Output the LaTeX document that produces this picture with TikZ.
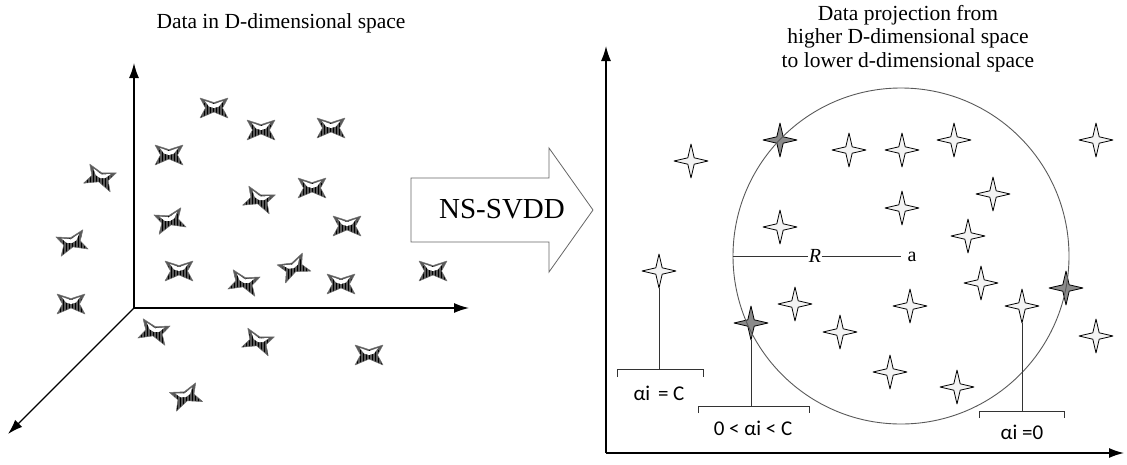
\documentclass[tikz,border=0pt]{standalone}
\usepackage{fontspec}
\setmainfont{Liberation Serif}
\newfontfamily\lblfont{Carlito}
\usetikzlibrary{arrows.meta,patterns}
\definecolor{starw}{HTML}{F3F3F3}
\definecolor{stard}{HTML}{8A8A8A}
\begin{document}
\begin{tikzpicture}[x=1pt,y=-1pt,
  axis/.style={line width=1.4pt,-{Latex[length=15pt,width=10pt]}},
  title/.style={font=\fontsize{21.5}{23.3}\selectfont,align=center,inner sep=0pt},
  lbl/.style={font=\lblfont\fontsize{21}{21}\selectfont,inner sep=0pt},
  bracket/.style={line width=0.9pt,black!80},
  conn/.style={line width=0.9pt,black!80},
  pics/xmark/.style={code={
    \begin{scope}
      \path[clip] (-14,-10) -- (0,-5.5) -- (14,-10) -- (8.5,0) -- (14,10) -- (0,4) -- (-14,10) -- (-8.5,0) -- cycle;
      \fill[black!65] (-16,-13) rectangle (16,13);
      \fill[pattern=vertical lines,pattern color=black] (-16,-5) rectangle (16,13);
      \fill[white] (-9,-7) -- (0,-3.8) -- (9,-7) -- (5,-1.5) -- (0,0) -- (-5,-1.5) -- cycle;
    \end{scope}
    \draw[black!55,line width=0.5pt,line join=round] (-14,-10) -- (0,-5.5) -- (14,-10) -- (8.5,0) -- (14,10) -- (0,4) -- (-14,10) -- (-8.5,0) -- cycle;
  }},
  pics/star/.style={code={
    \draw[line width=0.8pt,line join=round,fill=#1] (0,-17) -- (3.2,-3.2) -- (17,0) -- (3.2,3.2) -- (0,17) -- (-3.2,3.2) -- (-17,0) -- (-3.2,-3.2) -- cycle;
  }}]
\useasboundingbox (0,0) rectangle (1127,464);

% ---------- left panel ----------
\node[title,anchor=base] (t1) at (281,28) {Data in D-dimensional space};
\coordinate (o) at (134,308);
\coordinate (ytip) at (134,63);
\coordinate (xtip) at (469,308);
\coordinate (ztip) at (8,434);
\draw[axis] (o) -- (ytip);
\draw[axis] (o) -- (xtip);
\draw[axis] (o) -- (ztip);

\foreach \x/\y/\r [count=\i] in {214/108/0, 261/130/0, 331/128/0, 169/155/0, 100/178/-18,
  259/200/-18, 312/188/0, 170/221/15, 347/226/0, 72/243/15, 179/271/0, 244/283/-15,
  294/268/25, 341/284/0, 433/271/0, 71/304/0, 154/332/-15, 258/342/-18, 369/355/0, 186/397/20}
  \pic[rotate=\r] (m\i) at (\x,\y) {xmark};

% ---------- arrow ----------
\draw[black!60,line width=0.8pt,fill=white] (411,178) -- (549,178) -- (549,148) -- (593,210) -- (549,272) -- (549,242) -- (411,242) -- cycle;
\node[font=\fontsize{29}{29}\selectfont,inner sep=0pt] (ns) at (502,209) {NS-SVDD};

% ---------- right panel ----------
\node[title,anchor=base] (t2) at (908,67) {Data projection from\\higher D-dimensional space\\to lower d-dimensional space};
\coordinate (o2) at (606,453);
\coordinate (ytip2) at (606,46);
\coordinate (xtip2) at (1124,453);
\draw[axis] (o2) -- (ytip2);
\draw[axis] (o2) -- (xtip2);

\foreach \x/\y/\c [count=\i] in {691/161/starw, 780/140/stard, 849/150/starw, 902/150/starw,
  954/140/starw, 1096/140/starw, 993/194/starw, 902/208/starw, 780/227/starw, 968/236/starw,
  659/271/starw, 981/283/starw, 1066/288/stard, 795/304/starw, 910/306/starw, 1022/306/starw,
  751/323/stard, 840/332/starw, 1096/336/starw, 890/372/starw, 957/387/starw}
  {\coordinate (s\i) at (\x,\y); \pic at (s\i) {star=\c};}

\node[draw=black!65,line width=0.9pt,circle,minimum size=336pt,inner sep=0pt] (c) at (901,256) {};
\coordinate (ctr) at (901,256);
\node[font=\fontsize{20}{20}\selectfont\itshape,inner sep=0.3pt] (R) at (815,256) {R};
\node[font=\fontsize{20}{20}\selectfont,inner sep=0pt] (a) at (912,257) {a};
\draw[conn] (c.west) -- (R) -- (ctr);

% brackets
\coordinate (b1l) at (617,369); \coordinate (b1r) at (703,369);
\coordinate (b2l) at (698,406); \coordinate (b2r) at (809,406);
\coordinate (b3l) at (979,411); \coordinate (b3r) at (1064,411);
\draw[bracket] (b1l) ++(0,8) -- (b1l) -- (b1r) -- ++(0,8);
\draw[bracket] (b2l) ++(0,7) -- (b2l) -- (b2r) -- ++(0,7);
\draw[bracket] (b3l) ++(0,7) -- (b3l) -- (b3r) -- ++(0,7);
\draw[conn] ([yshift=-17pt]s11) -- (s11 |- b1l);
\draw[conn] ([yshift=-17pt]s17) -- (s17 |- b2l);
\draw[conn] ([yshift=-17pt]s16) -- (s16 |- b3l);

\node[lbl] (l1) at (659,393) {αi\hspace{3pt} = C};
\node[lbl] (l2) at (753,428) {0 < αi < C};
\node[lbl] (l3) at (1022,432) {αi =0};
\end{tikzpicture}
\end{document}
